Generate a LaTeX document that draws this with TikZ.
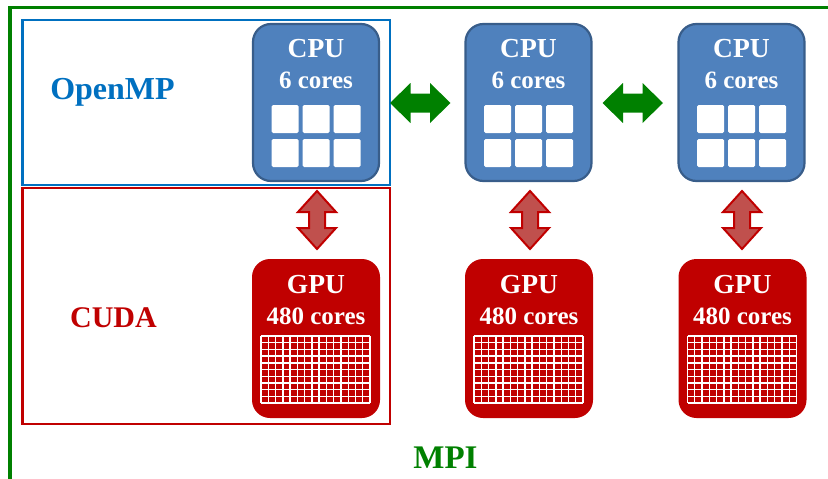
\documentclass[tikz,border=0pt]{standalone}
\usepackage{fontspec}
\setmainfont{Liberation Serif}
\definecolor{cpufill}{HTML}{4F81BD}
\definecolor{cpuline}{HTML}{385D8A}
\definecolor{gpufill}{HTML}{C00000}
\definecolor{mpigreen}{HTML}{008000}
\definecolor{ompblue}{HTML}{0070C0}
\definecolor{arrowred}{HTML}{C0504D}
\tikzset{
  cpubox/.style={draw=cpuline, line width=2.2pt, fill=cpufill, rounded corners=18pt,
    minimum width=126pt, minimum height=157pt, inner sep=0pt},
  gpubox/.style={fill=gpufill, rounded corners=18pt,
    minimum width=128pt, minimum height=159pt, inner sep=0pt},
  corebox/.style={fill=white, rounded corners=1.5pt, minimum width=27pt,
    minimum height=28pt, inner sep=0pt},
  titletext/.style={text=white, font=\bfseries\fontsize{27.5}{30}\selectfont, anchor=base, inner sep=0pt},
  coretext/.style={text=white, font=\bfseries\fontsize{25}{28}\selectfont, anchor=base, inner sep=0pt},
  bigtext/.style={font=\bfseries\fontsize{32}{36}\selectfont, anchor=base, inner sep=0pt},
  gridline/.style={white, line width=1.4pt},
  greenarrow/.style={fill=mpigreen},
  redarrow/.style={fill=arrowred, draw=gpufill, line width=2pt, line join=miter},
}
\begin{document}
\begin{tikzpicture}[x=1pt,y=-1pt]
\useasboundingbox (0,0) rectangle (828,479);
% frames
\draw[mpigreen, line width=3.5pt] (10,479) -- (10,7.5) -- (830,7.5);
\draw[ompblue, line width=2.5pt] (22.5,20) rectangle (390,185);
\draw[gpufill, line width=2.5pt] (22.5,188) rectangle (390,424);
% labels
\node[bigtext, text=ompblue] (omp) at (112.5,99) {OpenMP};
\node[bigtext, text=gpufill, font=\bfseries\fontsize{30}{34}\selectfont] (cuda) at (113.5,327) {CUDA};
\node[bigtext, text=mpigreen, font=\bfseries\fontsize{33}{36}\selectfont] (mpi) at (445.5,468) {MPI};
% CPU boxes
\foreach \n/\cx in {1/316, 2/528.5, 3/741.5} {
  \node[cpubox] (cpu\n) at (\cx,102.5) {};
  \node[titletext] (cpu\n t) at (\cx,57) {CPU};
  \node[coretext] (cpu\n c) at (\cx,88) {6 cores};
  \foreach \i/\dx in {1/-31, 2/0, 3/31} {
    \node[corebox] (cpu\n a\i) at ({\cx+\dx},119) {};
    \node[corebox] (cpu\n b\i) at ({\cx+\dx},153) {};
  }
}
% GPU boxes
\foreach \n/\cx in {1/316, 2/529, 3/742.5} {
  \node[gpubox] (gpu\n) at (\cx,338.5) {};
  \node[titletext] (gpu\n t) at (\cx,293) {GPU};
  \node[coretext] (gpu\n c) at (\cx,324) {480 cores};
  \foreach \i in {0,...,15} {
    \draw[gridline] ({\cx-55+\i*109/15},336) -- ++(0,67);
  }
  \foreach \j in {0,...,10} {
    \draw[gridline] ({\cx-55},{336+\j*6.7}) -- ++(109,0);
  }
}
% green double arrows between CPUs
\foreach \xa in {390, 602.5} {
  \fill[greenarrow] (\xa,103) -- ({\xa+20.5},83) -- ({\xa+20.5},93.5) -- ({\xa+40},93.5)
    -- ({\xa+40},83) -- ({\xa+60.5},103) -- ({\xa+40},123) -- ({\xa+40},112.5)
    -- ({\xa+20.5},112.5) -- ({\xa+20.5},123) -- cycle;
}
% red double arrows CPU <-> GPU
\foreach \cx in {317, 530, 742} {
  \filldraw[redarrow] (\cx,191) -- ({\cx+19},212) -- ({\cx+8},212) -- ({\cx+8},228)
    -- ({\cx+19},228) -- (\cx,249) -- ({\cx-19},228) -- ({\cx-8},228)
    -- ({\cx-8},212) -- ({\cx-19},212) -- cycle;
}
\end{tikzpicture}
\end{document}
